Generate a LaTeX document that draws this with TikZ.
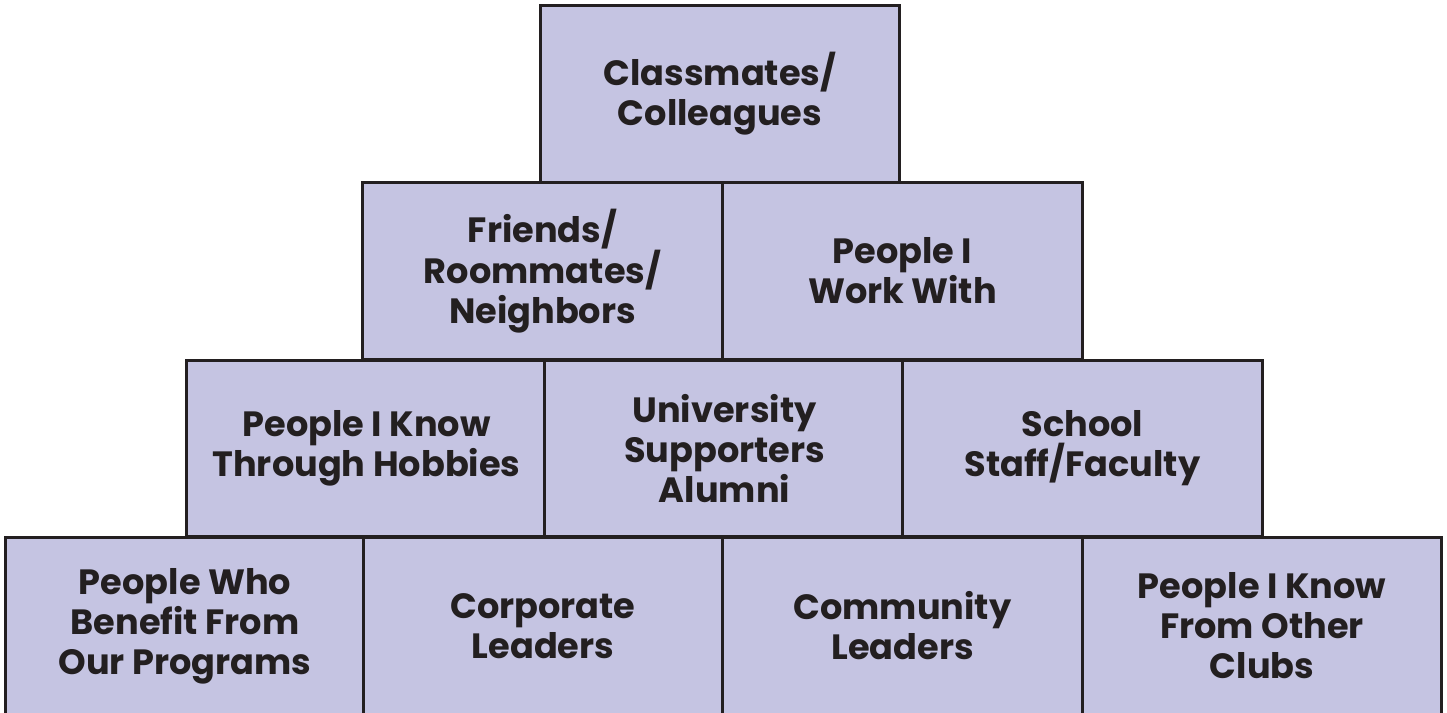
\documentclass[tikz,border=0pt]{standalone}
\usepackage{fontspec}
\setmainfont{Poppins}
\definecolor{boxfill}{HTML}{C5C4E2}
\definecolor{boxline}{HTML}{231F20}
\tikzset{
  netbox/.style={draw=boxline, fill=boxfill, line width=1.7pt, rectangle,
    minimum width=7.2cm, minimum height=3.54cm, inner sep=0pt,
    align=center, text=boxline, font=\fontsize{20}{22.7}\selectfont\bfseries}
}
\begin{document}
\begin{tikzpicture}[x=0.02cm,y=-0.02cm]
    \useasboundingbox (0,0) rectangle (1447,713);
    % bottom row
    \node[netbox] (Benefit) at (185,626) {People Who\\Benefit From\\Our Programs};
    \node[netbox] (Corporate) at (543,626) {Corporate\\Leaders};
    \node[netbox] (Community) at (902.5,626) {Community\\Leaders};
    \node[netbox] (Clubs) at (1262,626) {People I Know\\From Other\\Clubs};
    % third row
    \node[netbox] (Hobbies) at (366.5,448.5) {People I Know\\Through Hobbies};
    \node[netbox] (University) at (724.5,448.5) {University\\Supporters\\Alumni};
    \node[netbox] (School) at (1082.5,448.5) {School\\Staff/Faculty};
    % second row
    \node[netbox] (Friends) at (542.5,271) {Friends/\\Roommates/\\Neighbors};
    \node[netbox] (Work) at (902.5,271) {People I\\Work With};
    % top
    \node[netbox] (Classmates) at (720,94) {Classmates/\\Colleagues};
\end{tikzpicture}
\end{document}
